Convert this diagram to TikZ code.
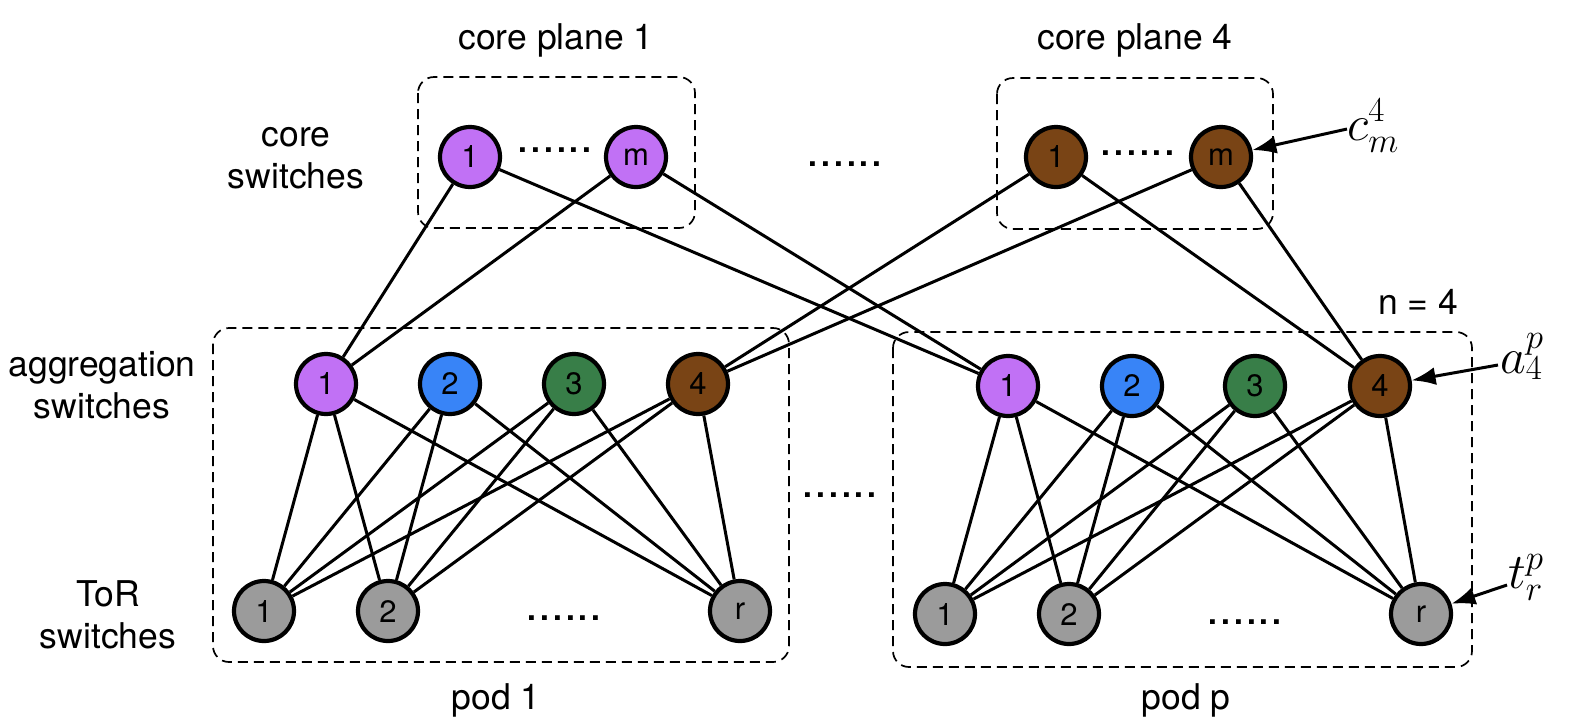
\RequirePackage{fix-cm}
\documentclass[tikz,border=0pt]{standalone}
\usepackage{fontspec}
\setmainfont{TeX Gyre Heros}
\usetikzlibrary{arrows.meta}

\definecolor{swpurple}{RGB}{193,113,245}
\definecolor{swblue}{RGB}{56,132,247}
\definecolor{swgreen}{RGB}{56,126,72}
\definecolor{swbrown}{RGB}{121,68,21}
\definecolor{swgray}{RGB}{155,155,155}

\begin{document}
\begin{tikzpicture}[x=1pt,y=1pt]

\tikzset{SwNode/.style={circle, draw, line width=4.2pt, minimum size=60pt, inner sep=0pt, font=\fontsize{31}{31}\selectfont}};
\tikzset{PlaneBox/.style={draw, line width=1.7pt, dash pattern=on 10pt off 6pt, rounded corners=16pt}};
\tikzset{Link/.style={line width=3pt}};
\tikzset{Pointer/.style={line width=3pt, -{Latex[length=24pt,width=18pt]}}};
\tikzset{Txt/.style={font=\fontsize{35.5}{42}\selectfont, align=center}};
\tikzset{Dots/.style={font=\fontsize{46}{46}\selectfont, inner sep=0pt}};
\tikzset{MathLbl/.style={font=\fontsize{50}{50}\selectfont, inner sep=0pt, anchor=base west}};

\useasboundingbox (0,0) rectangle (1575,-724);

% core planes
\draw[PlaneBox] (418,-77) rectangle (695,-228);
\draw[PlaneBox] (997,-78) rectangle (1273,-229);
\node[Txt] (plane1) at (556,-40) {core plane 1};
\node[Txt] (plane4) at (1135,-40) {core plane 4};

\node[SwNode, fill=swpurple] (c1a) at (470,-157) {1};
\node[SwNode, fill=swpurple] (c1m) at (636,-157) {m};
\node[Dots] (c1dots) at (555,-150) {......};
\node[SwNode, fill=swbrown] (c4a) at (1056,-157) {1};
\node[SwNode, fill=swbrown] (c4m) at (1221,-157) {m};
\node[Dots] (c4dots) at (1138,-153) {......};
\node[Dots] (cdots) at (845,-164) {......};

% pods
\draw[PlaneBox] (213,-328) rectangle (789,-662);
\draw[PlaneBox] (893,-332) rectangle (1472,-667);
\node[Txt] (pod1) at (496,-700) {pod 1};
\node[Txt] (podp) at (1186,-700) {pod p};
\node[Txt] (nfour) at (1418,-302) {n = 4};
\node[Dots] (pdots) at (840,-495) {......};

\node[SwNode, fill=swpurple] (a11) at (326,-384) {1};
\node[SwNode, fill=swblue] (a12) at (450,-384) {2};
\node[SwNode, fill=swgreen] (a13) at (574,-384) {3};
\node[SwNode, fill=swbrown] (a14) at (698,-384) {4};
\node[SwNode, fill=swgray] (t11) at (264,-611) {1};
\node[SwNode, fill=swgray] (t12) at (388,-611) {2};
\node[SwNode, fill=swgray] (t1r) at (740,-611) {r};
\node[Dots] (t1dots) at (564,-618) {......};

\node[SwNode, fill=swpurple] (ap1) at (1008,-386) {1};
\node[SwNode, fill=swblue] (ap2) at (1132,-386) {2};
\node[SwNode, fill=swgreen] (ap3) at (1255,-386) {3};
\node[SwNode, fill=swbrown] (ap4) at (1380,-386) {4};
\node[SwNode, fill=swgray] (tp1) at (945,-614) {1};
\node[SwNode, fill=swgray] (tp2) at (1069,-614) {2};
\node[SwNode, fill=swgray] (tpr) at (1421,-614) {r};
\node[Dots] (tpdots) at (1245,-622) {......};

% layer labels
\node[Txt] (corelbl) at (296,-158) {core\\switches};
\node[Txt] (agglbl) at (102,-385) {aggregation\\switches};
\node[Txt] (torlbl) at (108,-615) {ToR\\switches};

% core -- aggregation
\draw[Link] (c1a) -- (a11);
\draw[Link] (c1a) -- (ap1);
\draw[Link] (c1m) -- (a11);
\draw[Link] (c1m) -- (ap1);
\draw[Link] (c4a) -- (a14);
\draw[Link] (c4a) -- (ap4);
\draw[Link] (c4m) -- (a14);
\draw[Link] (c4m) -- (ap4);

% aggregation -- ToR
\foreach \pod in {1,p}{
  \foreach \agg in {1,2,3,4}{
    \foreach \tor in {1,2,r}{
      \draw[Link] (a\pod\agg) -- (t\pod\tor);
    }
  }
}

% labels with pointers
\node[MathLbl] (cmlbl) at (1347,-140) {$c_m^4$};
\node[MathLbl] (aplbl) at (1500,-373) {$a_4^p$};
\node[MathLbl] (tplbl) at (1508,-588) {$t_r^p$};
\coordinate (cmtail) at (1347,-129);
\coordinate (aptail) at (1498,-365);
\coordinate (tptail) at (1507,-585);
\draw[Pointer] (cmtail) -- (c4m);
\draw[Pointer] (aptail) -- (ap4);
\draw[Pointer] (tptail) -- (tpr);

\end{tikzpicture}
\end{document}
